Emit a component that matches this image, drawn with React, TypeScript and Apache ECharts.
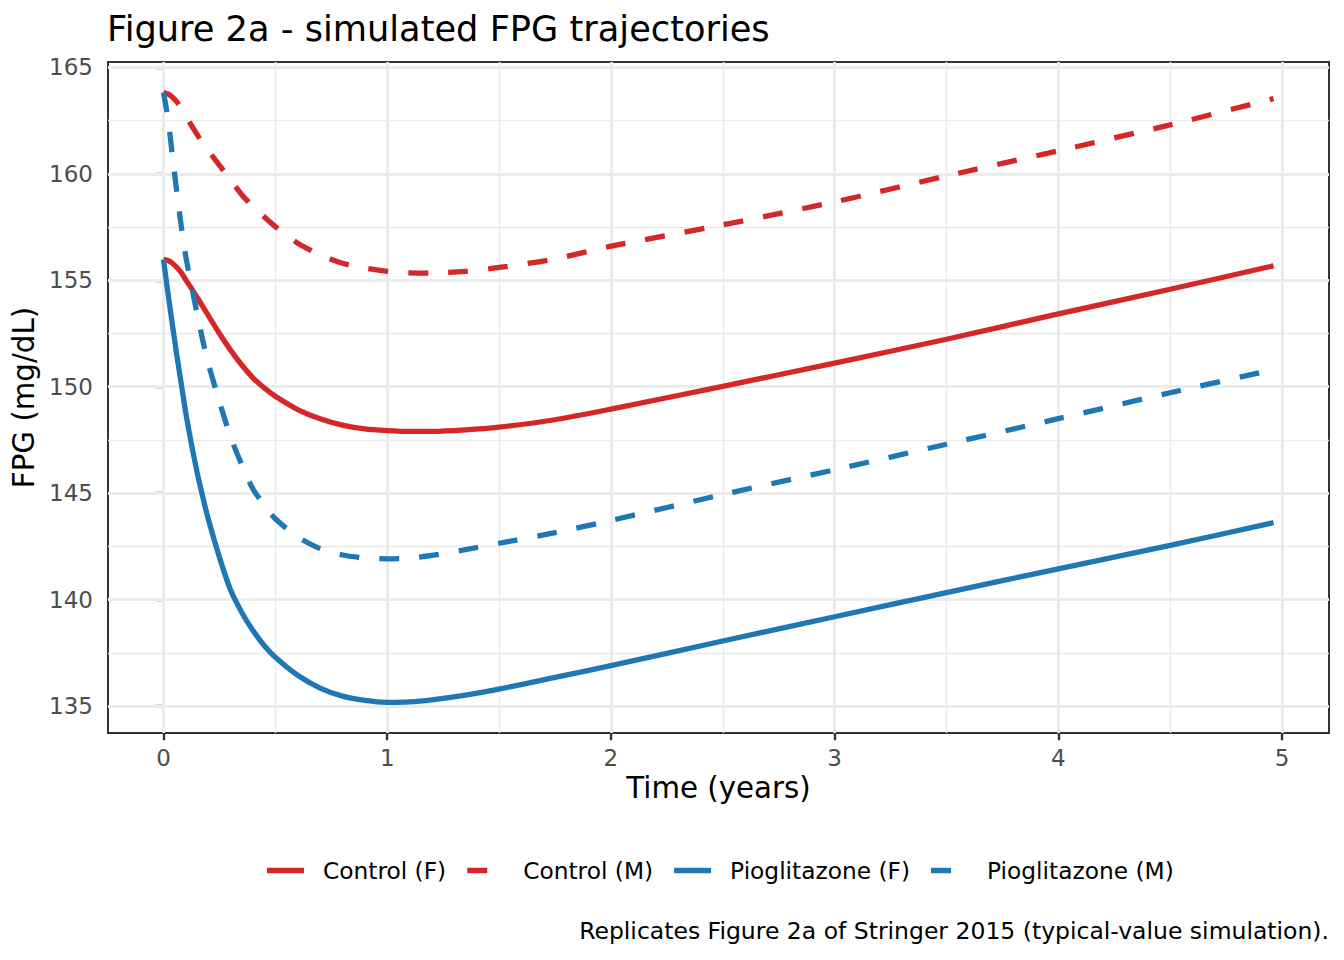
import React, { useEffect, useRef } from "react";
import * as echarts from "echarts";

// ---- data ----
const timeYears = [0, 0.02, 0.04, 0.06, 0.08, 0.1, 0.125, 0.15, 0.175, 0.2, 0.25, 0.3, 0.35, 0.4, 0.45, 0.5, 0.6, 0.7, 0.8, 0.9, 1.0, 1.1, 1.2, 1.35, 1.5, 1.75, 2.0, 2.5, 3.0, 3.5, 4.0, 4.5, 4.962];

const controlF = [155.98, 155.93, 155.8, 155.6, 155.35, 155.02, 154.62, 154.2, 153.78, 153.35, 152.5, 151.72, 151.02, 150.42, 149.95, 149.55, 148.93, 148.5, 148.2, 148.02, 147.94, 147.9, 147.9, 147.97, 148.1, 148.45, 148.95, 150.02, 151.11, 152.23, 153.42, 154.58, 155.68];

const controlM = [163.82, 163.75, 163.6, 163.38, 163.08, 162.72, 162.27, 161.85, 161.45, 161.1, 160.4, 159.7, 159.02, 158.47, 157.98, 157.52, 156.74, 156.2, 155.8, 155.57, 155.42, 155.35, 155.34, 155.42, 155.6, 156.0, 156.6, 157.6, 158.68, 159.9, 161.08, 162.3, 163.53];

const pioF = [155.97, 154.4, 152.9, 151.45, 150.1, 148.75, 147.3, 146.0, 144.85, 143.8, 142.0, 140.45, 139.4, 138.55, 137.85, 137.3, 136.45, 135.85, 135.47, 135.27, 135.18, 135.2, 135.3, 135.52, 135.8, 136.35, 136.9, 138.06, 139.2, 140.33, 141.45, 142.55, 143.62];

const pioM = [163.82, 162.6, 160.85, 159.1, 157.5, 156.1, 154.75, 153.45, 152.2, 151.1, 149.3, 147.64, 146.34, 145.2, 144.45, 143.8, 142.95, 142.4, 142.1, 141.96, 141.92, 141.95, 142.08, 142.35, 142.65, 143.15, 143.72, 144.94, 146.1, 147.3, 148.5, 149.72, 150.8];

const seriesNames = ["Control (F)", "Control (M)", "Pioglitazone (F)", "Pioglitazone (M)"];
const seriesValues = [controlF, controlM, pioF, pioM];
const seriesColors = ["#D62728", "#D62728", "#1F77B4", "#1F77B4"];
const seriesDashed = [false, true, false, true];

const xMajorTicks = [0, 1, 2, 3, 4, 5];
const xMinorTicks = [0.5, 1.5, 2.5, 3.5, 4.5];
const yMajorTicks = [135, 140, 145, 150, 155, 160, 165];
const yMinorTicks = [137.5, 142.5, 147.5, 152.5, 157.5, 162.5];

const titleText = "Figure 2a - simulated FPG trajectories";
const captionText = "Replicates Figure 2a of Stringer 2015 (typical-value simulation).";
const xTitle = "Time (years)";
const yTitle = "FPG (mg/dL)";

const FONT = "DejaVu Sans";
const LINE_W = 5.3;
const DASH = [20, 20];

// legend key glyphs (solid bar, or the first dash of the dashed pattern)
const solidKey = "path://M0,0H37V5.3H0Z";
const dashedKey = "path://M0,0H20V5.3H0Z M37,0V5.3";

export default function App() {
  const ref = useRef<HTMLDivElement>(null);

  useEffect(() => {
    if (!ref.current) return;
    const chart = echarts.init(ref.current, null, { renderer: "svg" });

    const gridColor = "#EBEBEB";
    const majorW = 2.85;
    const minorW = 1.42;
    const markData: any[] = [
      ...xMinorTicks.map((v) => ({ xAxis: v, lineStyle: { color: gridColor, width: minorW, type: "solid" } })),
      ...yMinorTicks.map((v) => ({ yAxis: v, lineStyle: { color: gridColor, width: minorW, type: "solid" } })),
      ...xMajorTicks.map((v) => ({ xAxis: v, lineStyle: { color: gridColor, width: majorW, type: "solid" } })),
      ...yMajorTicks.map((v) => ({ yAxis: v, lineStyle: { color: gridColor, width: majorW, type: "solid" } })),
    ];

    const lineSeries = seriesNames.map((name, i) => ({
      name,
      type: "line",
      data: timeYears.map((t, j) => [t, seriesValues[i][j]]),
      showSymbol: false,
      symbol: "none",
      smooth: 0.25,
      z: 3,
      color: seriesColors[i],
      itemStyle: { color: seriesColors[i] },
      lineStyle: {
        color: seriesColors[i],
        width: LINE_W,
        type: seriesDashed[i] ? DASH : "solid",
        cap: "butt",
        join: "round",
      },
    }));

    const option: any = {
      animation: false,
      backgroundColor: "#FFFFFF",
      textStyle: { fontFamily: FONT },
      title: [
        {
          text: titleText,
          left: 107,
          top: 11,
          padding: 0,
          textStyle: { fontFamily: FONT, fontSize: 35.2, fontWeight: "normal", color: "#000000" },
        },
        {
          text: captionText,
          right: 15,
          top: 919,
          padding: 0,
          textStyle: { fontFamily: FONT, fontSize: 23.5, fontWeight: "normal", color: "#000000" },
        },
      ],
      legend: {
        data: seriesNames.map((n, i) => ({
          name: n,
          icon: seriesDashed[i] ? dashedKey : solidKey,
          itemStyle: { color: seriesColors[i] },
        })),
        orient: "horizontal",
        left: 267,
        top: 859,
        padding: 0,
        itemWidth: 37,
        itemHeight: 5.3,
        itemGap: 21,
        symbolKeepAspect: false,
        textStyle: { fontFamily: FONT, fontSize: 23.3, color: "#000000", padding: [0, 0, 0, 14] },
      },
      grid: {
        left: 108,
        top: 62,
        width: 1221,
        height: 671,
        show: true,
        borderColor: "#333333",
        borderWidth: 2,
        backgroundColor: "transparent",
        containLabel: false,
      },
      xAxis: {
        type: "value",
        min: -0.248,
        max: 5.21,
        axisLine: { show: false },
        splitLine: { show: false },
        axisTick: {
          show: true,
          length: 7.3,
          customValues: xMajorTicks,
          lineStyle: { color: "#333333", width: 2.4 },
        },
        axisLabel: {
          customValues: xMajorTicks,
          margin: 13,
          color: "#4D4D4D",
          fontSize: 23,
          fontFamily: FONT,
        },
        name: xTitle,
        nameLocation: "middle",
        nameGap: 40,
        nameTextStyle: { fontFamily: FONT, fontSize: 29.3, color: "#000000" },
      },
      yAxis: {
        type: "value",
        min: 133.74,
        max: 165.25,
        axisLine: { show: false },
        splitLine: { show: false },
        axisTick: {
          show: true,
          length: 7.3,
          customValues: yMajorTicks,
          lineStyle: { color: "#333333", width: 2.4 },
        },
        axisLabel: {
          customValues: yMajorTicks,
          margin: 15,
          color: "#4D4D4D",
          fontSize: 23,
          fontFamily: FONT,
        },
        name: yTitle,
        nameLocation: "middle",
        nameGap: 63,
        nameTextStyle: { fontFamily: FONT, fontSize: 29.3, color: "#000000" },
      },
      series: [
        {
          name: "__grid",
          type: "line",
          data: [],
          silent: true,
          z: 1,
          markLine: {
            silent: true,
            z: 1,
            symbol: ["none", "none"],
            label: { show: false },
            emphasis: { disabled: true },
            animation: false,
            data: markData,
          },
        },
        ...lineSeries,
      ],
    };

    chart.setOption(option);
    return () => chart.dispose();
  }, []);

  return (
    <div
      ref={ref}
      style={{ position: "absolute", left: 0, top: 0, width: 1344, height: 960, background: "#FFFFFF" }}
    />
  );
}
